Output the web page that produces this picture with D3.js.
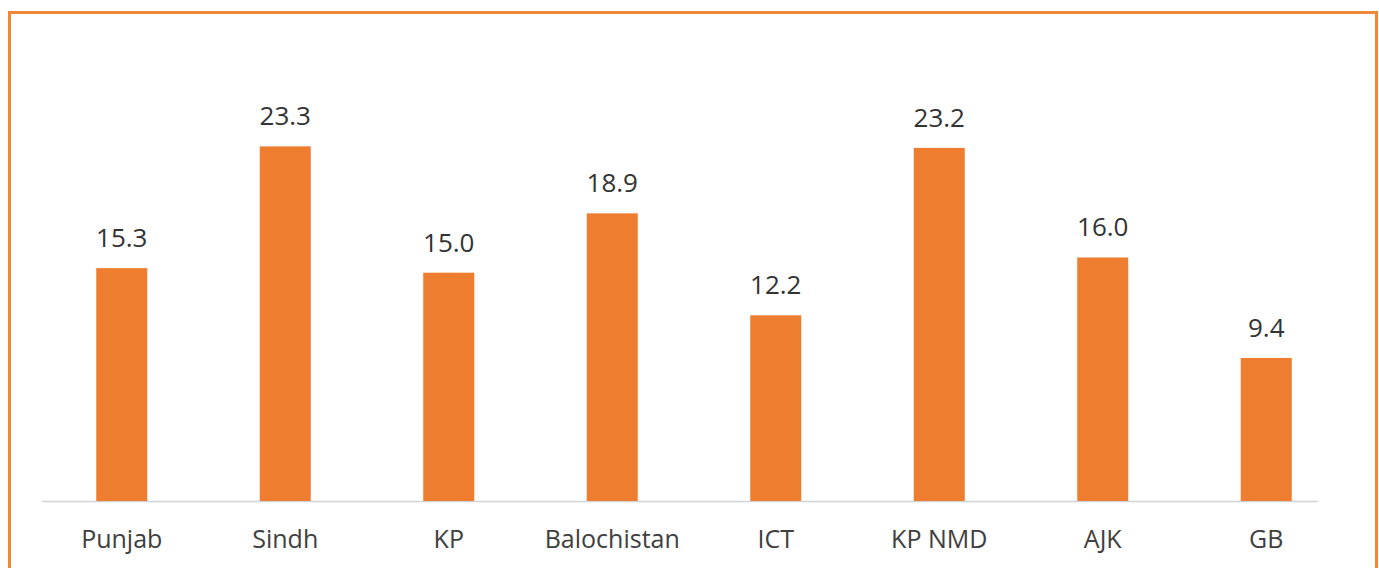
<!DOCTYPE html>
<html><head><meta charset="utf-8">
<script src="https://cdn.jsdelivr.net/npm/d3@7"></script>
<style>html,body{margin:0;padding:0;background:#fff;}svg{display:block;}</style>
</head><body>
<svg id="chart" width="1379" height="568"></svg>
<script>
const categories = ["Punjab","Sindh","KP","Balochistan","ICT","KP NMD","AJK","GB"];
const values = [15.3,23.3,15.0,18.9,12.2,23.2,16.0,9.4];

const svg = d3.select("#chart");
// frame
svg.append("rect").attr("x",9.5).attr("y",12.5).attr("width",1367).attr("height",600)
  .attr("fill","#fff").attr("stroke","#F0883A").attr("stroke-width",3);

const baseY = 501;
const x = d3.scaleBand().domain(categories).range([40, 1348]).paddingInner(0.688).paddingOuter(0.344);
const y = d3.scaleLinear().domain([0, 25]).range([baseY, baseY - 25*15.22]);

// axis line
svg.append("line").attr("x1",42).attr("x2",1318).attr("y1",baseY+0.5).attr("y2",baseY+0.5)
  .attr("stroke","#D0D3D8").attr("stroke-width",1.5);

const g = svg.append("g");
g.selectAll("rect.bar").data(values).join("rect").attr("class","bar")
  .attr("x",(d,i)=>x(categories[i]))
  .attr("width",x.bandwidth())
  .attr("y",d=>y(d))
  .attr("height",d=>baseY - y(d))
  .attr("fill","#EE7D30");

g.selectAll("text.val").data(values).join("text").attr("class","val")
  .attr("x",(d,i)=>x(categories[i])+x.bandwidth()/2)
  .attr("y",d=>y(d)-21)
  .attr("text-anchor","middle")
  .attr("font-family","Open Sans, sans-serif")
  .attr("font-size",26)
  .attr("fill","#333")
  .text(d=>d.toFixed(1));

const xAxis = d3.axisBottom(x).tickSize(0).tickPadding(0);
const ax = svg.append("g").attr("transform",`translate(0,${baseY})`).call(xAxis);
ax.select(".domain").remove();
ax.selectAll("text")
  .attr("dy",null)
  .attr("y",47)
  .attr("font-family","Open Sans, sans-serif")
  .attr("font-size",25)
  .attr("fill","#404040");
</script>
</body></html>
